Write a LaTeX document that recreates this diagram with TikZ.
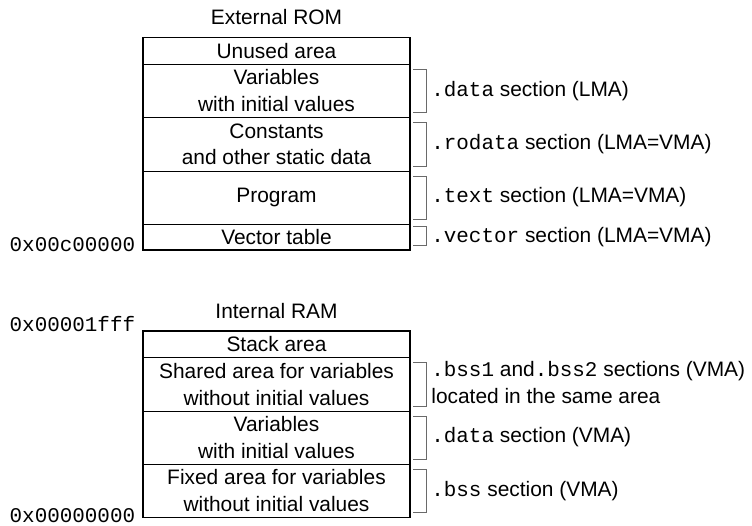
\documentclass[tikz,border=0pt]{standalone}
\usepackage{fontspec}
\setmainfont{Liberation Sans}
\setsansfont{Liberation Sans}
\setmonofont{Liberation Mono}
\usetikzlibrary{positioning}
\definecolor{MemLine}{HTML}{000000}
\definecolor{MemBrace}{HTML}{6A6A6A}

\begin{document}
\begin{tikzpicture}[
  x=1cm,y=1cm,font=\sffamily\fontsize{11.9}{15.2}\selectfont,
  area/.style={draw=MemLine,line width=0.55pt,minimum width=5.34cm,
    inner sep=0pt,outer sep=0pt,align=center,anchor=north},
  slot/.style={area,minimum height=0.53cm},
  tallslot/.style={area,minimum height=1.07cm},
  frame/.style={draw=MemLine,line width=1.1pt},
  brace/.style={draw=MemBrace,line width=0.55pt},
  seclabel/.style={anchor=west,inner sep=0pt,align=left},
  addr/.style={anchor=base east,inner sep=0pt,
    font=\ttfamily\fontsize{11.9}{15.2}\selectfont},
  title/.style={inner sep=0pt}
]

\newcommand{\memsec}[1]{{\ttfamily #1}}
\newcommand{\membrace}[2][0.10]{%
  \draw[brace] ([xshift=0.06cm,yshift=-#1cm]#2.north east) -- ++(0.26,0)
    |- ([xshift=0.06cm,yshift=0.10cm]#2.south east);}

\useasboundingbox (0,0) rectangle (15.04,10.52);

% External ROM: load image of every section
\node[title] (romtitle) at (5.53,10.18) {External ROM};
\node[slot] (unused) at (5.53,9.77) {Unused area};
\node[tallslot,below=0pt of unused] (romdata) {Variables\\with initial values};
\node[tallslot,below=0pt of romdata] (rodata) {Constants\\and other static data};
\node[tallslot,minimum height=1.06cm,below=0pt of rodata] (program) {Program};
\node[slot,minimum height=0.52cm,below=0pt of program] (vector) {Vector table};
\draw[frame] (unused.north west) rectangle (vector.south east);

\node[addr] (romlow) at ([xshift=-0.15cm,yshift=-0.03cm]vector.south west) {0x00c00000};

\membrace{romdata}
\membrace{rodata}
\membrace{program}
\membrace[0.04]{vector}

\node[seclabel] (lmadata) at ([xshift=0.42cm]romdata.east)
  {\memsec{.data} section (LMA)};
\node[seclabel] (lmarodata) at ([xshift=0.42cm]rodata.east)
  {\memsec{.rodata} section (LMA=VMA)};
\node[seclabel] (lmatext) at ([xshift=0.42cm]program.east)
  {\memsec{.text} section (LMA=VMA)};
\node[seclabel] (lmavector) at ([xshift=0.42cm]vector.east)
  {\memsec{.vector} section (LMA=VMA)};

% Internal RAM: run-time placement
\node[title] (ramtitle) at (5.53,4.29) {Internal RAM};
\node[slot] (stack) at (5.53,3.90) {Stack area};
\node[tallslot,below=0pt of stack] (shared)
  {Shared area for variables\\without initial values};
\node[tallslot,minimum height=1.06cm,below=0pt of shared] (ramdata)
  {Variables\\with initial values};
\node[tallslot,below=0pt of ramdata] (fixed)
  {Fixed area for variables\\without initial values};
\draw[frame] (stack.north west) rectangle (fixed.south east);

\node[addr] (ramhigh) at ([xshift=-0.15cm,yshift=-0.02cm]stack.north west) {0x00001fff};
\node[addr] (ramlow) at ([xshift=-0.15cm,yshift=-0.11cm]fixed.south west) {0x00000000};

\membrace{shared}
\membrace{ramdata}
\membrace{fixed}

\node[seclabel] (vmabss) at ([xshift=0.42cm,yshift=0.03cm]shared.east)
  {\memsec{.bss1} and\memsec{.bss2} sections (VMA)\\located in the same area};
\node[seclabel] (vmadata) at ([xshift=0.42cm]ramdata.east)
  {\memsec{.data} section (VMA)};
\node[seclabel] (vmafixed) at ([xshift=0.42cm]fixed.east)
  {\memsec{.bss} section (VMA)};

\end{tikzpicture}
\end{document}
